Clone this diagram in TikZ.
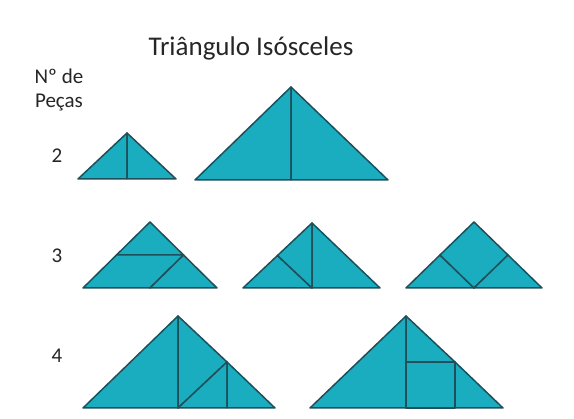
\documentclass[tikz,border=0pt]{standalone}
\usepackage{fontspec}
\setmainfont{Carlito}
\definecolor{tealfill}{HTML}{1AADC0}
\definecolor{edgedark}{HTML}{1E4F5A}
\definecolor{txt}{HTML}{262626}
\begin{document}
\begin{tikzpicture}[x=1pt,y=-1pt,
  piece/.style={fill=tealfill, draw=edgedark, line width=1.5pt, line join=round},
  lbl/.style={text=txt, font=\fontsize{21}{25}\selectfont, inner sep=0pt}]
\useasboundingbox (0,0) rectangle (574,419);
\fill[white] (0,0) rectangle (574,419);
% texts
\node[text=txt, font=\fontsize{27}{32}\selectfont, inner sep=0pt] (title) at (251,48) {Triângulo Isósceles};
\node[lbl] (n1) at (59,76) {Nº de};
\node[lbl] (n2) at (59,103) {Peças};
\node[lbl] (r2) at (57,156) {2};
\node[lbl] (r3) at (57,256) {3};
\node[lbl] (r4) at (57,356) {4};
% row 2 pieces
\draw[piece] (78,179) -- (127,133) -- (127,179) -- cycle;
\draw[piece] (127,133) -- (176,179) -- (127,179) -- cycle;
\draw[piece] (195,180) -- (291,87) -- (291,180) -- cycle;
\draw[piece] (291,87) -- (388,180) -- (291,180) -- cycle;
% row 3, A
\draw[piece] (150,222) -- (183.5,255) -- (116.5,255) -- cycle;
\draw[piece] (83,288) -- (116.5,255) -- (183.5,255) -- (150,288) -- cycle;
\draw[piece] (150,288) -- (183.5,255) -- (217,288) -- cycle;
% row 3, B
\draw[piece] (243,288) -- (277.5,255.5) -- (312,288) -- cycle;
\draw[piece] (277.5,255.5) -- (312,223) -- (312,288) -- cycle;
\draw[piece] (312,223) -- (380,288) -- (312,288) -- cycle;
% row 3, C
\draw[piece] (406,288) -- (440,255) -- (474,288) -- cycle;
\draw[piece] (440,255) -- (474,222) -- (508,255) -- (474,288) -- cycle;
\draw[piece] (474,288) -- (508,255) -- (542,288) -- cycle;
% row 4, D
\draw[piece] (83,408) -- (178,316) -- (178,408) -- cycle;
\draw[piece] (178,316) -- (227,362) -- (178,408) -- cycle;
\draw[piece] (178,408) -- (227,362) -- (227,408) -- cycle;
\draw[piece] (227,362) -- (275,408) -- (227,408) -- cycle;
% row 4, E
\draw[piece] (310,408) -- (406,316) -- (406,408) -- cycle;
\draw[piece] (406,316) -- (455,362) -- (406,362) -- cycle;
\draw[piece] (406,362) -- (455,362) -- (455,408) -- (406,408) -- cycle;
\draw[piece] (455,362) -- (503,408) -- (455,408) -- cycle;
\end{tikzpicture}
\end{document}
